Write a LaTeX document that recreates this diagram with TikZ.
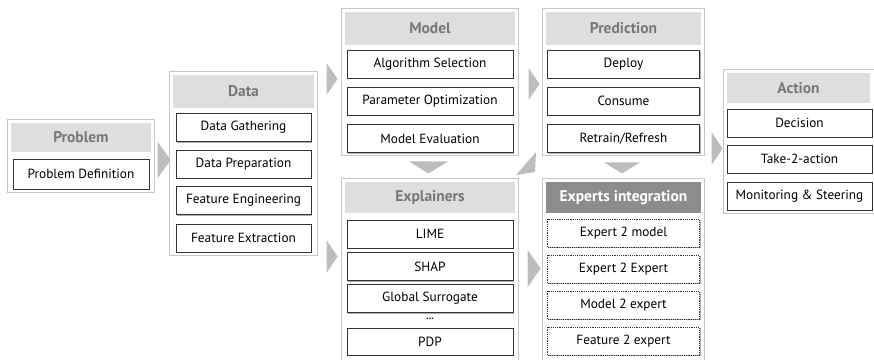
\documentclass[tikz,border=0pt]{standalone}
\usepackage{fontspec}
\setmainfont{PT Sans}
\usetikzlibrary{shapes.geometric,fit,shadows}

\definecolor{headgray}{HTML}{DEDEDE}
\definecolor{headtext}{HTML}{787878}
\definecolor{darkhead}{HTML}{8C8C8C}
\definecolor{framegray}{HTML}{C6C6C6}
\definecolor{chevgray}{HTML}{BDBDBD}

\tikzset{
  item/.style={
    draw=black!80,
    fill=white,
    inner sep=0pt,
    minimum height=28pt,
    font=\fontsize{13.3}{15}\selectfont,
    drop shadow={shadow xshift=1pt, shadow yshift=-1pt, fill=black!40, opacity=.8}
  },
  dashitem/.style={item, dash pattern=on 1.2pt off 1pt},
  head/.style={
    fill=headgray,
    text=headtext,
    inner sep=0pt,
    minimum height=32pt,
    font=\bfseries\fontsize{15.5}{17}\selectfont
  },
  darkbox/.style={head, fill=darkhead, text=white},
  panel/.style={draw=framegray, line width=0.8pt, inner sep=3pt},
  chev/.style={
    isosceles triangle,
    isosceles triangle stretches,
    fill=chevgray,
    inner sep=0pt
  }
}

\begin{document}
\begin{tikzpicture}[x=1pt, y=-1pt]
\useasboundingbox (0,0) rectangle (874,359);
\clip (0,0) rectangle (874,359);

% Problem
\node[head, minimum width=140pt, minimum height=29pt] (ph) at (81,137.5) {Problem};
\node[item, minimum width=136pt, minimum height=30pt] (p1) at (81,174) {Problem Definition};
\node[panel, fit=(ph)(p1)] (prob) {};

% Data
\node[head, minimum width=141pt, minimum height=33pt] (dh) at (243.5,91.5) {Data};
\node[item, minimum width=135pt] (d1) at (243.5,127.5) {Data Gathering};
\node[item, minimum width=135pt] (d2) at (243.5,164) {Data Preparation};
\node[item, minimum width=135pt] (d3) at (243.5,200.5) {Feature Engineering};
\node[item, minimum width=135pt] (d4) at (243.5,238) {Feature Extraction};
\node[panel, fit=(dh)(d4)] (data) {};

% Model
\node[head, minimum width=170pt, minimum height=33pt] (mh) at (430,28.5) {Model};
\node[item, minimum width=166pt] (m1) at (430,64) {Algorithm Selection};
\node[item, minimum width=166pt] (m2) at (430,101) {Parameter Optimization};
\node[item, minimum width=166pt] (m3) at (430,138.5) {Model Evaluation};
\node[panel, fit=(mh)(m3)] (model) {};

% Prediction
\node[head, minimum width=155pt, minimum height=33pt] (rh) at (623.5,28.5) {Prediction};
\node[item, minimum width=152pt] (r1) at (623.5,64) {Deploy};
\node[item, minimum width=152pt] (r2) at (623.5,101) {Consume};
\node[item, minimum width=152pt] (r3) at (623.5,138.5) {Retrain/Refresh};
\node[panel, fit=(rh)(r3)] (pred) {};

% Explainers
\coordinate (ebot) at (430,366);
\node[head, minimum width=170pt, minimum height=31pt] (eh) at (430,197.5) {Explainers};
\node[item, minimum width=166pt] (e1) at (430,234) {LIME};
\node[item, minimum width=166pt] (e2) at (430,266.5) {SHAP};
\node[item, minimum width=166pt] (e3) at (430,298.5) {Global Surrogate};
\node[font=\bfseries\fontsize{10}{10}\selectfont, inner sep=0pt] (edots) at (430,319) {...};
\node[item, minimum width=166pt, minimum height=27pt] (e4) at (430,341.5) {PDP};
\node[panel, fit=(eh)(e4)(ebot)] (expl) {};

% Experts integration
\coordinate (xbot) at (623.5,366);
\node[darkbox, minimum width=155pt, minimum height=31pt] (xh) at (623.5,197.5) {Experts integration};
\node[dashitem, minimum width=152pt] (x1) at (623.5,233) {Expert 2 model};
\node[dashitem, minimum width=152pt] (x2) at (623.5,269) {Expert 2 Expert};
\node[dashitem, minimum width=152pt] (x3) at (623.5,305) {Model 2 expert};
\node[dashitem, minimum width=152pt] (x4) at (623.5,341) {Feature 2 expert};
\node[panel, fit=(xh)(x4)(xbot)] (expt) {};

% Action
\node[head, minimum width=143pt, minimum height=30pt] (ah) at (798.5,88) {Action};
\node[item, minimum width=145pt] (a1) at (799.5,123) {Decision};
\node[item, minimum width=145pt] (a2) at (799.5,159) {Take-2-action};
\node[item, minimum width=145pt] (a3) at (799.5,196) {Monitoring \& Steering};
\node[panel, fit=(ah)(a3)] (act) {};

% chevrons
\node[chev, minimum width=36pt, minimum height=13pt] (c1) at (163.5,160) {};
\node[chev, minimum width=32pt, minimum height=11pt] (c2) at (331.5,79) {};
\node[chev, minimum width=33pt, minimum height=11pt] (c3) at (331.5,256.5) {};
\node[chev, minimum width=32pt, minimum height=11pt] (c4) at (533.5,84) {};
\node[chev, minimum width=37pt, minimum height=13pt] (c5) at (533.5,268.5) {};
\node[chev, minimum width=33pt, minimum height=11pt] (c6) at (716.5,148.5) {};
\node[chev, shape border rotate=-90, minimum width=39pt, minimum height=12pt] (c7) at (428.5,167) {};
\node[chev, shape border rotate=-90, minimum width=36pt, minimum height=11pt] (c8) at (622,167.5) {};
\fill[chevgray] (516,175) -- (536,152) -- (535,172) -- cycle;
\end{tikzpicture}
\end{document}
